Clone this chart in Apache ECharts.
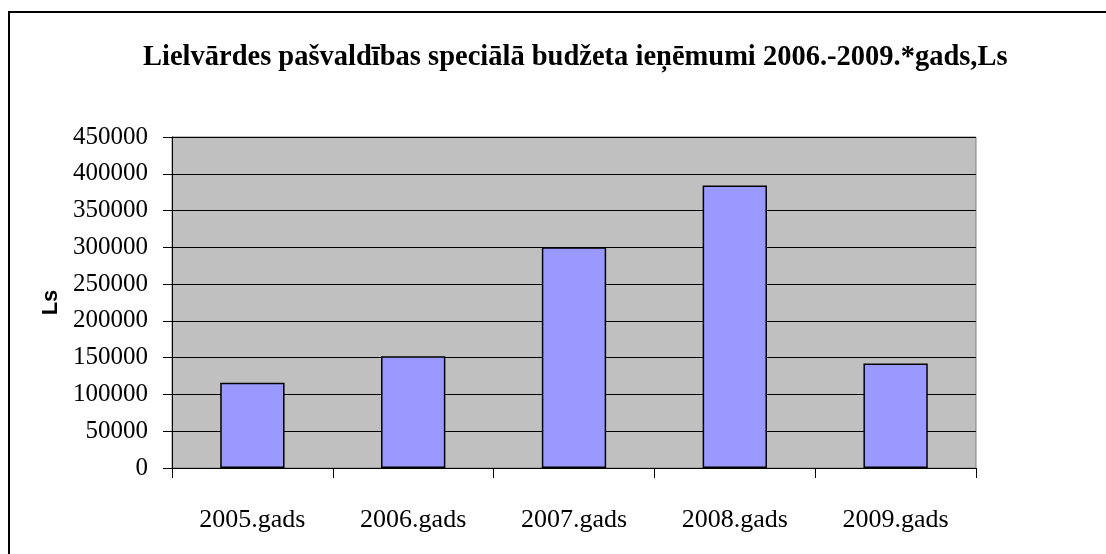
<!DOCTYPE html>
<html>
<head>
<meta charset="utf-8">
<script src="https://cdn.jsdelivr.net/npm/echarts@6/dist/echarts.min.js"></script>
<style>
html,body{margin:0;padding:0;background:#fff;}
#chart{width:1106px;height:554px;}
</style>
</head>
<body>
<div id="chart"></div>
<script>
const titleText = 'Lielvārdes pašvaldības speciālā budžeta ieņēmumi 2006.-2009.*gads,Ls';
const categories = ['2005.gads', '2006.gads', '2007.gads', '2008.gads', '2009.gads'];
const values = [116000, 152000, 300000, 384000, 142000];
const yAxisName = 'Ls';
const yMin = 0, yMax = 450000, yInterval = 50000;

const chart = echarts.init(document.getElementById('chart'));
chart.setOption({
  animation: false,
  backgroundColor: '#ffffff',
  graphic: [{
    type: 'rect',
    shape: { x: 9, y: 12, width: 1300, height: 700 },
    style: { fill: 'none', stroke: '#000', lineWidth: 2 },
    silent: true
  }],
  title: {
    text: titleText,
    left: 138,
    top: 38,
    textStyle: { fontFamily: 'Liberation Serif', fontWeight: 'bold', fontSize: 28.5, color: '#000' }
  },
  grid: {
    left: 172, right: 130, top: 137, bottom: 86,
    show: true, backgroundColor: '#c0c0c0', borderColor: '#808080', borderWidth: 1
  },
  xAxis: {
    type: 'category',
    data: categories,
    axisLine: { lineStyle: { color: '#000', width: 1 } },
    axisTick: { show: true, length: 10, lineStyle: { color: '#000' }, alignWithLabel: false },
    axisLabel: { margin: 39, fontFamily: 'Liberation Serif', fontSize: 26, color: '#000' }
  },
  yAxis: {
    type: 'value',
    min: yMin, max: yMax, interval: yInterval,
    name: yAxisName,
    nameLocation: 'middle',
    nameGap: 108,
    nameTextStyle: { fontFamily: 'Liberation Sans', fontWeight: 'bold', fontSize: 22, color: '#000' },
    axisLine: { show: true, lineStyle: { color: '#000', width: 1 } },
    axisTick: { show: true, length: 9, lineStyle: { color: '#000' } },
    axisLabel: { margin: 24, fontFamily: 'Liberation Serif', fontSize: 25, color: '#000',
      formatter: function (v) { return String(v); } },
    splitLine: { show: true, lineStyle: { color: '#000', width: 1 } }
  },
  series: [{
    type: 'bar',
    data: values,
    barCategoryGap: '60%',
    itemStyle: { color: '#9999ff', borderColor: '#000', borderWidth: 1.5 }
  }]
});
</script>
</body>
</html>
